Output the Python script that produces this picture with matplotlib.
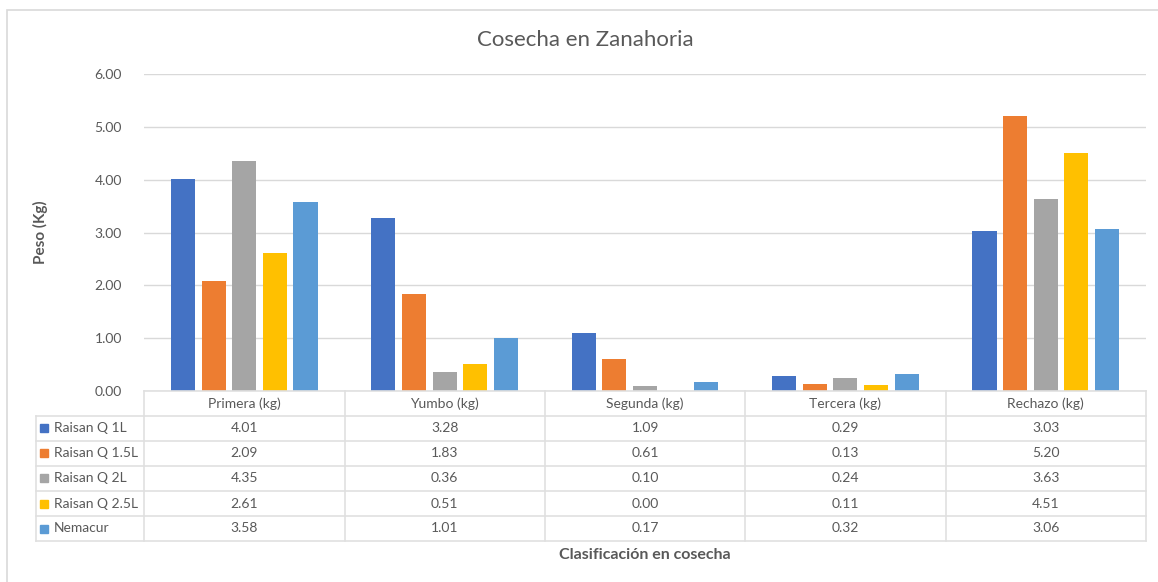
import numpy as np
import matplotlib.pyplot as plt
from matplotlib.patches import Rectangle

# data
categories = ['Primera (kg)', 'Yumbo (kg)', 'Segunda (kg)', 'Tercera (kg)', 'Rechazo (kg)']
series = ['Raisan Q 1L', 'Raisan Q 1.5L', 'Raisan Q 2L', 'Raisan Q 2.5L', 'Nemacur']
raisan_1 = [4.01, 3.28, 1.09, 0.29, 3.03]
raisan_15 = [2.09, 1.83, 0.61, 0.13, 5.20]
raisan_2 = [4.35, 0.36, 0.10, 0.24, 3.63]
raisan_25 = [2.61, 0.51, 0.00, 0.11, 4.51]
nemacur = [3.58, 1.01, 0.17, 0.32, 3.06]
values = [raisan_1, raisan_15, raisan_2, raisan_25, nemacur]
colors = ['#4472C4', '#ED7D31', '#A5A5A5', '#FFC000', '#5B9BD5']

plt.rcParams['font.family'] = ['Lato', 'DejaVu Sans']
txt = '#595959'
grid = '#D9D9D9'

W, H = 1158, 582
fig = plt.figure(figsize=(W / 100, H / 100), dpi=100)


def fx(px):
    return px / W


def fy(py):
    return 1 - py / H


# outer chart border (only left/top visible)
fig.add_artist(Rectangle((fx(7), fy(600)), 1.2, fy(10) - fy(600), transform=fig.transFigure,
                         fill=False, edgecolor=grid, lw=1.2))

# main axes
ax = fig.add_axes([fx(144), fy(391), fx(1146) - fx(144), fy(74) - fy(391)])
x = np.arange(len(categories))
bw = 0.12
step = 0.153
for i, (name, vals) in enumerate(zip(series, values)):
    ax.bar(x + (i - 2) * step, vals, width=bw, color=colors[i], zorder=3, label=name)

ax.set_xlim(-0.5, len(categories) - 0.5)
ax.set_ylim(0, 6)
ax.set_yticks(np.arange(0, 7, 1))
ax.set_yticklabels([f'{v:.2f}' for v in np.arange(0, 7, 1)], fontsize=10, color=txt)
ax.set_xticks([])
ax.tick_params(axis='y', length=0, pad=16)
ax.grid(axis='y', color=grid, lw=1, zorder=0)
for s in ax.spines.values():
    s.set_visible(False)

fig.text(fx(40), fy(232), 'Peso (Kg)', rotation=90, ha='center', va='center',
         fontsize=11, fontweight='bold', color=txt)
fig.text(fx(585), fy(40), 'Cosecha en Zanahoria', ha='center', va='center', fontsize=16, color=txt)

# data table
lcol = 108 / 200  # width of label column in category units
tax = fig.add_axes([fx(36), fy(541), fx(1146) - fx(36), fy(391) - fy(541)])
tax.set_xlim(-0.5 - lcol, len(categories) - 0.5)
tax.set_ylim(len(series) + 1, 0)
tax.axis('off')

nrow = len(series) + 1
lc = '#E0E0E0'
# horizontal lines
tax.plot([-0.5, len(categories) - 0.5], [0, 0], color=lc, lw=1.2, clip_on=False)
for r in range(1, nrow + 1):
    tax.plot([-0.5 - lcol, len(categories) - 0.5], [r, r], color=lc, lw=1.2, clip_on=False)
# vertical lines
tax.plot([-0.5 - lcol, -0.5 - lcol], [1, nrow], color=lc, lw=1.2, clip_on=False)
for c in range(len(categories) + 1):
    tax.plot([c - 0.5, c - 0.5], [0, nrow], color=lc, lw=1.2, clip_on=False)

for c, cat in enumerate(categories):
    tax.text(c, 0.5, cat, ha='center', va='center', fontsize=10, color=txt)
for r, (name, vals) in enumerate(zip(series, values)):
    tax.add_patch(Rectangle((-0.5 - lcol + 0.02, r + 1.5 - 0.16), 0.04, 0.32,
                            color=colors[r], clip_on=False))
    tax.text(-0.5 - lcol + 0.09, r + 1.5, name, ha='left', va='center', fontsize=10, color=txt)
    for c, v in enumerate(vals):
        tax.text(c, r + 1.5, f'{v:.2f}', ha='center', va='center', fontsize=10, color=txt)

fig.text(fx(645), fy(555), 'Clasificación en cosecha', ha='center', va='center',
         fontsize=11.5, fontweight='bold', color=txt)

fig.savefig('out.png', dpi=100)
